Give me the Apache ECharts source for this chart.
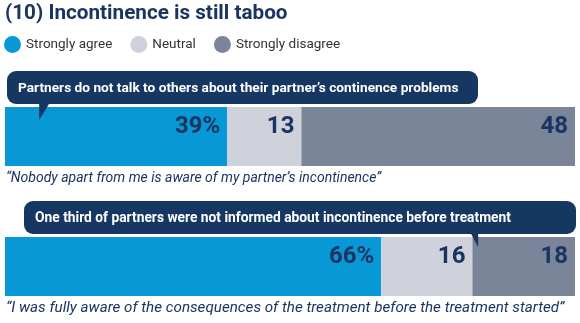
<!DOCTYPE html>
<html>
<head>
<meta charset="utf-8">
<script src="https://cdn.jsdelivr.net/npm/echarts@6/dist/echarts.min.js"></script>
<style>
html,body{margin:0;padding:0;background:#fff;}
#chart{width:580px;height:323px;}
</style>
</head>
<body>
<div id="chart"></div>
<script>
const title = '(10) Incontinence is still taboo';
const seriesNames = ['Strongly agree', 'Neutral', 'Strongly disagree'];
const quotes = ['\u201cNobody apart from me is aware of my partner\u2019s incontinence\u201d',
                '\u201cI was fully aware of the consequences of the treatment before the treatment started\u201d'];
const callouts = ['Partners do not talk to others about their partner\u2019s continence problems',
                  'One third of partners were not informed about incontinence before treatment'];
const agree = [39, 66];
const neutral = [13, 16];
const disagree = [48, 18];
const calloutPointAt = [6, 83]; // value on the axis where the pointer lands

const colors = ['#0898d5', '#cfd1db', '#7b8599'];
const navy = '#1a3561';
const FONT = 'Roboto, "Noto Sans", sans-serif';

const chart = echarts.init(document.getElementById('chart'), null, {renderer: 'canvas'});

const grids = [
  {left: 5, right: 5, top: 107, height: 59},
  {left: 5, right: 5, top: 237, height: 59}
];
const xAxes = grids.map((g, i) => ({gridIndex: i, type: 'value', min: 0, max: 100, show: false}));
const yAxes = grids.map((g, i) => ({gridIndex: i, type: 'category', data: [quotes[i]], show: false}));

const valueSets = [agree, neutral, disagree];
const series = [];
for (let i = 0; i < 2; i++) {
  for (let s = 0; s < 3; s++) {
    series.push({
      name: seriesNames[s],
      type: 'bar',
      stack: 'row' + i,
      xAxisIndex: i,
      yAxisIndex: i,
      barWidth: '100%',
      data: [valueSets[s][i]],
      itemStyle: {color: colors[s]},
      emphasis: {disabled: true},
      label: {
        show: true,
        position: 'insideRight',
        distance: 7,
        offset: [0, -10],
        formatter: s === 0 ? '{c}%' : '{c}',
        color: navy,
        fontFamily: FONT,
        fontWeight: 'bold',
        fontSize: 24
      }
    });
  }
}

chart.setOption({
  animation: false,
  color: colors,
  title: {
    text: title,
    left: 0,
    top: 0,
    padding: [3, 5],
    textStyle: {color: navy, fontFamily: FONT, fontWeight: 'bold', fontSize: 20.7}
  },
  legend: {
    data: seriesNames,
    left: 4,
    top: 36,
    padding: 0,
    icon: 'circle',
    itemWidth: 17,
    itemHeight: 17,
    itemGap: 18,
    textStyle: {color: '#333', fontFamily: FONT, fontSize: 13.5}
  },
  grid: grids,
  xAxis: xAxes,
  yAxis: yAxes,
  series: series
});

// Annotations (callouts and quotes), placed from the axes' own scales
const quoteSizes = [14, 15.2];
const calloutSizes = [13.7, 13.8];
function buildGraphics() {
  const els = [];
  for (let i = 0; i < 2; i++) {
    const left = chart.convertToPixel({xAxisIndex: i}, 0);
    const right = chart.convertToPixel({xAxisIndex: i}, 100);
    const tipX = chart.convertToPixel({xAxisIndex: i}, calloutPointAt[i]);
    const barTop = grids[i].top;
    const barBottom = grids[i].top + grids[i].height;
    els.push({
      type: 'text', x: left + 1, y: barBottom + 12, z: 10,
      style: {text: quotes[i], fill: navy, font: 'italic ' + quoteSizes[i] + 'px ' + FONT, textVerticalAlign: 'middle'}
    });
    const boxTop = barTop - 36;
    const boxH = 33;
    const boxL = i === 0 ? left + 2 : left + 19;
    const boxR = i === 0 ? 478 : right + 1;
    els.push({
      type: 'rect', z: 10,
      shape: {x: boxL, y: boxTop, width: boxR - boxL, height: boxH, r: 9},
      style: {fill: '#173763'}
    });
    let pts;
    if (i === 0) pts = [[tipX, boxTop + boxH - 2], [tipX + 11, boxTop + boxH - 2], [tipX, barTop + 13]];
    else pts = [[tipX - 8, boxTop + boxH - 2], [tipX, boxTop + boxH - 2], [tipX, barTop + 10]];
    els.push({type: 'polygon', z: 10, shape: {points: pts}, style: {fill: '#173763'}});
    els.push({
      type: 'text', x: boxL + 11, y: boxTop + boxH / 2 + 1, z: 11,
      style: {text: callouts[i], fill: '#fff', font: 'bold ' + calloutSizes[i] + 'px ' + FONT, textVerticalAlign: 'middle'}
    });
  }
  chart.setOption({graphic: els});
}
buildGraphics();
</script>
</body>
</html>
